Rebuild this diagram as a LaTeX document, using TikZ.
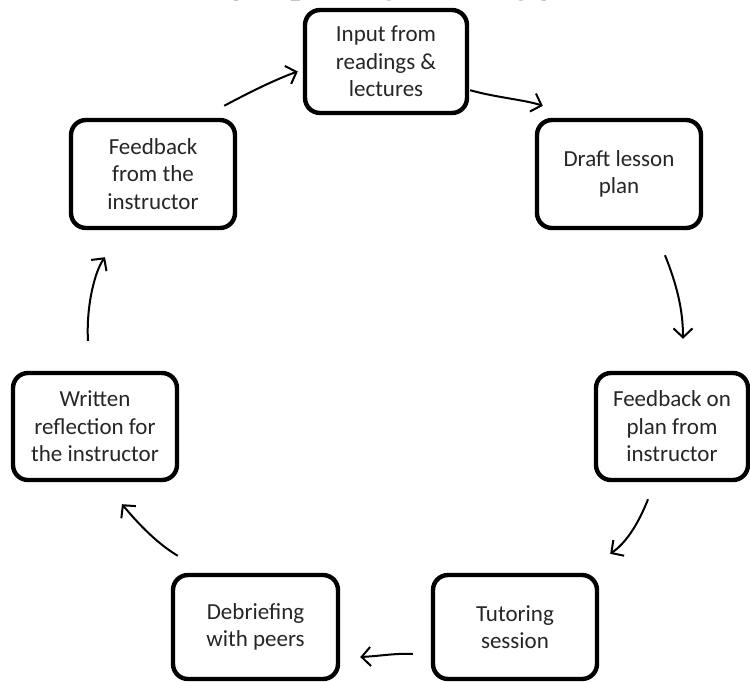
\documentclass[tikz,border=0pt]{standalone}
\usepackage{fontspec}
\setmainfont{Carlito}
\newfontfamily\titlefont{Liberation Serif}
\usetikzlibrary{arrows.meta,calc}
\begin{document}
\begin{tikzpicture}[x=1pt,y=-1pt,
  stagebox/.style={draw=black, line width=4.4pt, rounded corners=15pt, fill=white,
    align=center, inner sep=0pt, font=\fontsize{23}{27.5}\selectfont, text=black!85},
  flow/.style={line width=2pt, -{Straight Barb[length=9pt,width=19pt,line width=2pt]}}]
\useasboundingbox (0,0) rectangle (750,681);
\begin{scope}
\clip (0,0) rectangle (750,681);
\node[anchor=base west, inner sep=0pt, font=\titlefont\bfseries\itshape\fontsize{34}{38}\selectfont] (title) at (-76,-7) {Preparation Process of Improving Tutoring for Lesson Plans};
\end{scope}
\node[stagebox, minimum width=162pt, minimum height=103pt] (inp) at (386,61.5) {Input from\\readings \&\\lectures};
\node[stagebox, minimum width=164pt, minimum height=108pt] (dra) at (619,174) {Draft lesson\\plan};
\node[stagebox, minimum width=152pt, minimum height=107pt] (fbp) at (672,426.5) {Feedback on\\plan from\\instructor};
\node[stagebox, minimum width=164pt, minimum height=104pt] (tut) at (515,627) {Tutoring\\session};
\node[stagebox, minimum width=165pt, minimum height=104pt] (deb) at (255.5,627) {Debriefing\\with peers};
\node[stagebox, minimum width=164pt, minimum height=107pt] (wri) at (95,426.5) {Written\\reflection for\\the instructor};
\node[stagebox, minimum width=164pt, minimum height=108pt] (fbi) at (153,174) {Feedback\\from the\\instructor};
% connectors
\draw[flow] ($(fbi.north east)+(-13,-12)$) .. controls ($(fbi.north east)+(15,-27)$) and ($(inp.west)+(-25,17)$) .. ($(inp.west)+(-5,10)$);
\draw[flow] ($(inp.south east)+(1,-25)$) .. controls ($(inp.south east)+(25,-18)$) and ($(dra.north west)+(-10,-18)$) .. ($(dra.north west)+(8,-12)$);
\draw[flow] ($(dra.south)+(46,25)$) .. controls ($(dra.south)+(58,55)$) and ($(dra.south)+(64,80)$) .. ($(fbp.north)+(11,-32)$);
\draw[flow] ($(fbp.south)+(-24,17)$) .. controls ($(fbp.south)+(-33,40)$) and ($(fbp.south)+(-45,60)$) .. ($(tut.north east)+(11,-19)$);
\draw[flow] ($(tut.west)+(-18,27)$) .. controls ($(tut.west)+(-35,26)$) and ($(tut.west)+(-50,29)$) .. ($(deb.east)+(20,30)$);
\draw[flow] ($(deb.north west)+(7,-17)$) .. controls ($(deb.north west)+(-15,-30)$) and ($(deb.north west)+(-35,-52)$) .. ($(wri.south)+(27,22)$);
\draw[flow] ($(wri.north)+(-7,-30)$) .. controls ($(wri.north)+(-9,-65)$) and ($(wri.north)+(0,-100)$) .. ($(fbi.south)+(-48,27)$);
\end{tikzpicture}
\end{document}
